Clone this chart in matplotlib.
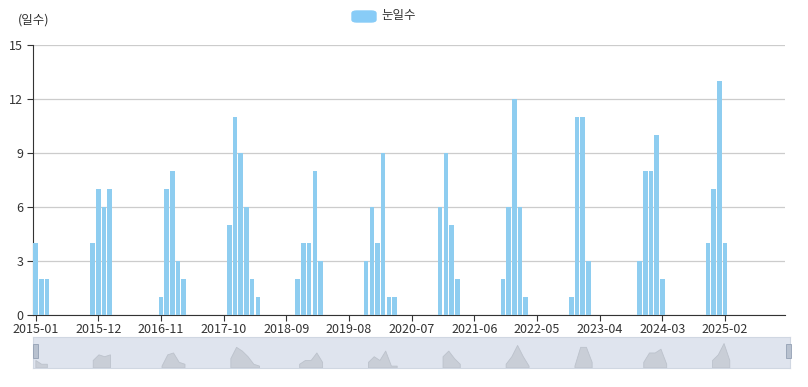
import numpy as np
import pandas as pd
import matplotlib
matplotlib.use("Agg")
import matplotlib.pyplot as plt
from matplotlib.patches import FancyBboxPatch, Rectangle

plt.rcParams['font.family'] = ['Noto Sans CJK KR', 'DejaVu Sans']

# monthly snow days, 2015-01 .. 2025-12 (months not listed are 0)
months = pd.period_range("2015-01", "2025-12", freq="M").strftime("%Y-%m").tolist()
snow = {
    "2015-01": 4, "2015-02": 2, "2015-03": 2,
    "2015-11": 4, "2015-12": 7, "2016-01": 6, "2016-02": 7,
    "2016-11": 1, "2016-12": 7, "2017-01": 8, "2017-02": 3, "2017-03": 2,
    "2017-11": 5, "2017-12": 11, "2018-01": 9, "2018-02": 6, "2018-03": 2, "2018-04": 1,
    "2018-11": 2, "2018-12": 4, "2019-01": 4, "2019-02": 8, "2019-03": 3,
    "2019-11": 3, "2019-12": 6, "2020-01": 4, "2020-02": 9, "2020-03": 1, "2020-04": 1,
    "2020-12": 6, "2021-01": 9, "2021-02": 5, "2021-03": 2,
    "2021-11": 2, "2021-12": 6, "2022-01": 12, "2022-02": 6, "2022-03": 1,
    "2022-11": 1, "2022-12": 11, "2023-01": 11, "2023-02": 3,
    "2023-11": 3, "2023-12": 8, "2024-01": 8, "2024-02": 10, "2024-03": 2,
    "2024-11": 4, "2024-12": 7, "2025-01": 13, "2025-02": 4,
}
values = [snow.get(m, 0) for m in months]
yticks = [0, 3, 6, 9, 12, 15]

bar_color = "#8ECDF0"

fig = plt.figure(figsize=(8.08, 3.87), dpi=100)
ax = fig.add_axes([33/808, 1 - 315/387, 752/808, 270/387])

x = np.arange(len(months))
ax.bar(x, values, width=0.8, color=bar_color, zorder=3)

ax.set_xlim(-0.45, len(months) - 0.5)
ax.set_ylim(0, 15)
ax.set_yticks(yticks)
ax.grid(axis="y", color="#cccccc", linewidth=0.9, zorder=0)
tick_pos = x[::11]
ax.set_xticks(tick_pos)
ax.set_xticklabels([months[i] for i in tick_pos])
ax.tick_params(axis="both", labelsize=9, colors="#333333", length=4, width=0.8)
ax.tick_params(axis="x", pad=2)
ax.tick_params(axis="y", pad=3)
for s in ["top", "right"]:
    ax.spines[s].set_visible(False)
ax.spines["left"].set_color("#333333")
ax.spines["bottom"].set_color("#333333")

fig.text(18/808, 1 - 20/387, "(일수)", fontsize=9, color="#333333", va="center")

# legend
fig.patches.append(FancyBboxPatch((352/808, 1 - 22/387), 24/808, 11/387,
                                  boxstyle="round,pad=0,rounding_size=0.006",
                                  transform=fig.transFigure, color="#88CCF7"))
fig.text(381/808, 1 - 16/387, "눈일수", fontsize=9, color="#333333", va="center")

# zoom slider below
vals = np.array(values)
sl = fig.add_axes([33/808, 1 - 368/387, 757/808, 31/387])
sl.set_facecolor("#dfe4ee")
sl.fill_between(x, vals, 0, where=vals > 0, color="#c9ced7", linewidth=0.6, edgecolor="#bcc2cc")
sl.set_xlim(-0.5, len(months) - 0.5)
sl.set_ylim(0, 16.5)
sl.set_xticks([])
sl.set_yticks([])
for s in sl.spines.values():
    s.set_color("#d0d7e2")
    s.set_linewidth(0.8)
for hx in [35, 788]:
    fig.patches.append(Rectangle(((hx - 2.5)/808, 1 - 358/387), 5/808, 14/387,
                                 transform=fig.transFigure, facecolor="#b8c1cf",
                                 edgecolor="#94a0b4", linewidth=0.6))

fig.savefig("out.png", dpi=100)
